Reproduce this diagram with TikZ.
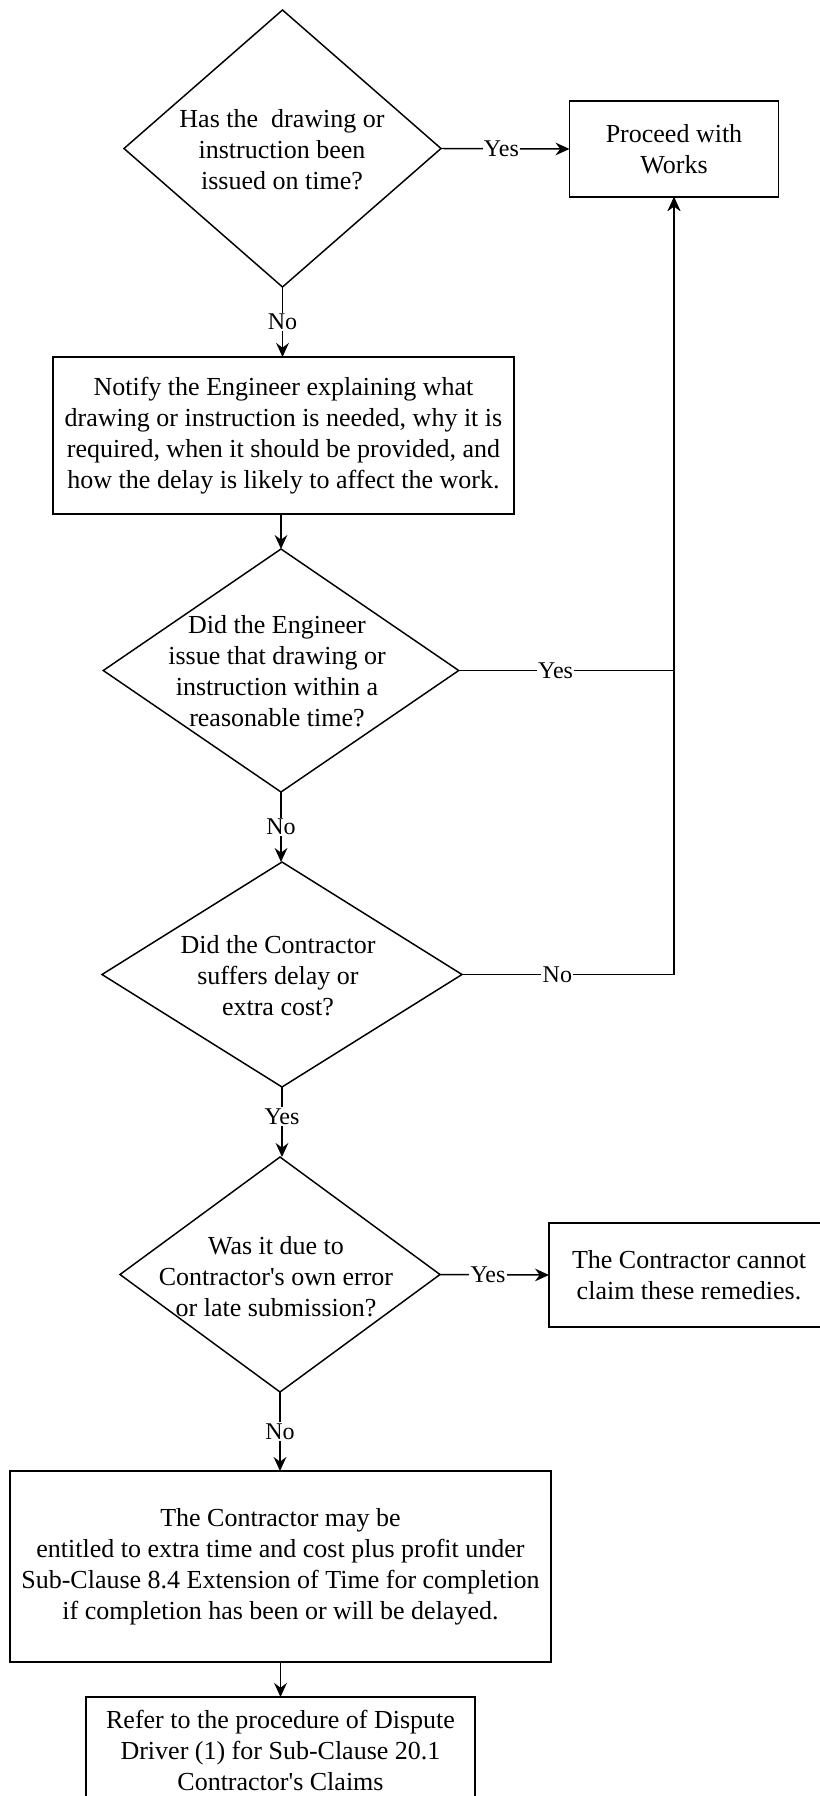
\documentclass[tikz,border=0pt]{standalone}
\usepackage{fontspec}
\setmainfont{Liberation Serif}
\usetikzlibrary{shapes.geometric,arrows.meta}
\begin{document}
\begin{tikzpicture}[x=0.75pt,y=-0.75pt,
  every node/.style={font=\fontsize{19.5}{23.25}\selectfont},
  boxnode/.style={draw,line width=1.1pt,rectangle,inner sep=0pt,outer sep=0pt,align=center},
  dianode/.style={draw,line width=1.1pt,diamond,inner sep=0pt,outer sep=0pt},
  txt/.style={align=center,inner sep=0pt},
  lbl/.style={fill=white,inner sep=1pt,font=\fontsize{18}{21}\selectfont},
  conn/.style={line width=1.1pt},
  arr/.style={conn,-{Stealth[length=10.5pt,width=9.5pt,inset=3.5pt]}}]
\useasboundingbox (0,0) rectangle (819,1796);
\fill[white] (0,0) rectangle (819,1796);

% nodes
\node[dianode,minimum width=237.75pt,minimum height=207.75pt] (d1) at (282.5,148.5) {};
\node[txt] (d1t) at (282,150) {Has the\ \ drawing or\\instruction been\\issued on time?};

\node[boxnode,minimum width=156.75pt,minimum height=72pt] (proceed) at (674,149) {Proceed with\\Works};

\node[boxnode,minimum width=345.75pt,minimum height=117.75pt] (notify) at (283.5,435.5) {Notify the Engineer explaining what\\drawing or instruction is needed, why it is\\required, when it should be provided, and\\how the delay is likely to affect the work.};

\node[dianode,minimum width=266.6pt,minimum height=182.25pt] (d2) at (281,670.5) {};
\node[txt] (d2t) at (277,671) {Did the Engineer\\issue that drawing or\\instruction within a\\reasonable time?};

\node[dianode,minimum width=270pt,minimum height=168.75pt] (d3) at (282,974.5) {};
\node[txt] (d3t) at (278,976) {Did the Contractor\\suffers delay or\\extra cost?};

\node[dianode,minimum width=240pt,minimum height=176.25pt] (d4) at (280,1274.5) {};
\node[txt] (d4t) at (276,1277) {Was it due to\\Contractor\textquotesingle s own error\\or late submission?};

\node[boxnode,minimum width=210pt,minimum height=78pt] (cannot) at (689,1275) {The Contractor cannot\\claim these remedies.};

\node[boxnode,minimum width=405.75pt,minimum height=143.25pt] (big) at (280.5,1566.5) {The Contractor may be\\entitled to extra time and cost plus profit under\\Sub-Clause 8.4 Extension of Time for completion\\if completion has been or will be delayed.};

\node[boxnode,minimum width=291.75pt,minimum height=79.5pt] (refer) at (280.5,1750) {Refer to the procedure of Dispute\\Driver (1) for Sub-Clause 20.1\\Contractor\textquotesingle s Claims};

% connectors
\draw[arr] (d1.east) -- node[lbl,pos=0.47] {Yes} (proceed.west);
\draw[arr] (d1.south) -- node[lbl] {No} (d1.south |- notify.north);
\draw[arr] (notify.south -| d2.north) -- (d2.north);
\draw[arr] (d2.east) -- node[lbl,pos=0.45] {Yes} (d2.east -| proceed.south) -- (proceed.south);
\draw[arr] (d2.south) -- node[lbl] {No} (d2.south |- d3.north);
\draw[arr] (d3.east) -- node[lbl,pos=0.45] {No} (d3.east -| proceed.south) -- (proceed.south);
\draw[arr] (d3.south) -- node[lbl,pos=0.42] {Yes} (d3.south |- d4.north);
\draw[arr] (d4.east) -- node[lbl,pos=0.44] {Yes} (cannot.west);
\draw[arr] (d4.south) -- node[lbl] {No} (d4.south |- big.north);
\draw[arr] (big.south) -- (refer.north);
\end{tikzpicture}
\end{document}
